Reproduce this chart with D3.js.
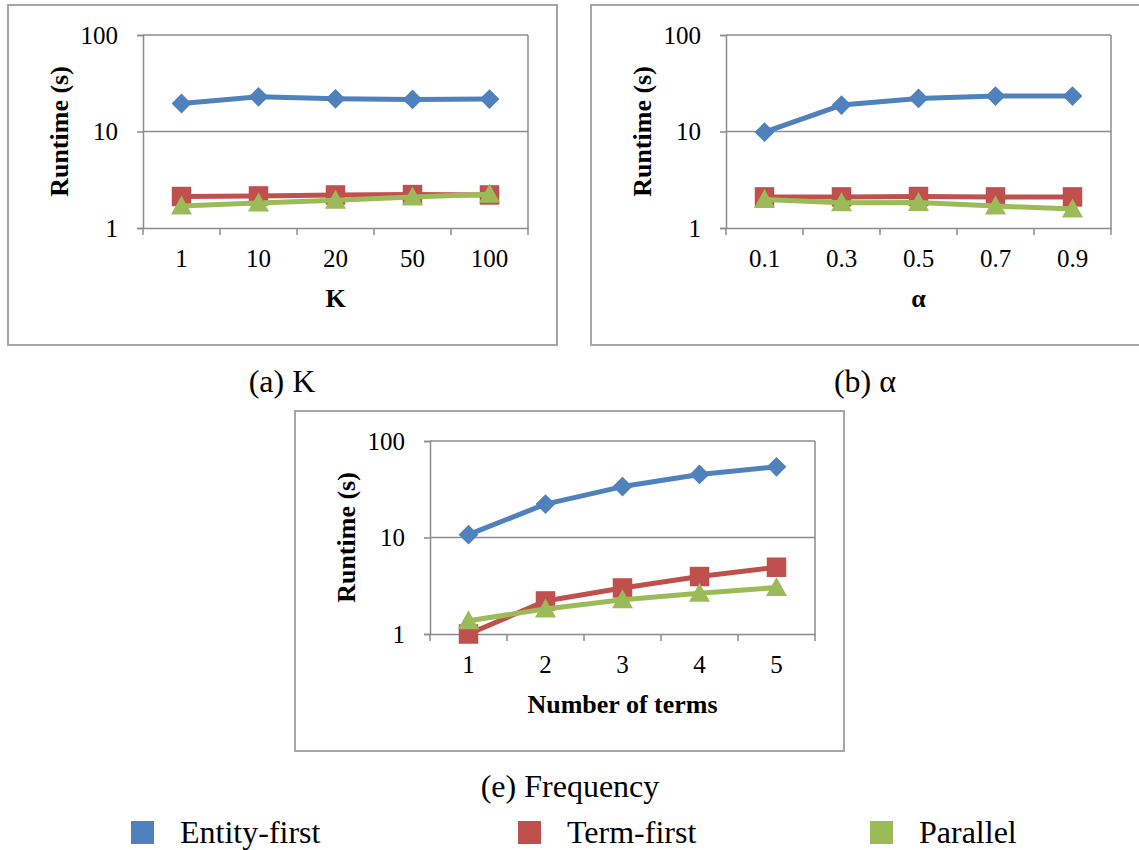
<!DOCTYPE html>
<html>
<head>
<meta charset="utf-8">
<script src="https://cdn.jsdelivr.net/npm/d3@7"></script>
<style>
  html, body { margin: 0; padding: 0; background: #fff; }
  svg { display: block; }
</style>
</head>
<body>
<svg id="chart" width="1139" height="850" font-family="Liberation Serif"></svg>
<script>
// ---- data ----
const seriesNames = ["Entity-first", "Term-first", "Parallel"];
const seriesColors = ["#4F81BD", "#C0504D", "#9BBB59"];

const kCategories = ["1", "10", "20", "50", "100"];
const kEntityFirst = [19.5, 22.9, 21.8, 21.5, 21.7];
const kTermFirst = [2.12, 2.15, 2.2, 2.22, 2.2];
const kParallel = [1.69, 1.82, 1.94, 2.1, 2.24];

const alphaCategories = ["0.1", "0.3", "0.5", "0.7", "0.9"];
const alphaEntityFirst = [9.85, 18.8, 22.0, 23.3, 23.3];
const alphaTermFirst = [2.1, 2.1, 2.12, 2.1, 2.1];
const alphaParallel = [1.97, 1.83, 1.84, 1.69, 1.57];

const termCategories = ["1", "2", "3", "4", "5"];
const termEntityFirst = [10.7, 22.2, 33.7, 45, 54];
const termTermFirst = [1.0, 2.2, 3.0, 3.94, 4.92];
const termParallel = [1.37, 1.82, 2.26, 2.64, 3.03];

const yTicks = [1, 10, 100];

// ---- layout ----
const FONT = "Liberation Serif";
const svg = d3.select("#chart");
const BOX_W = 549, BOX_H = 340;
const PLOT = { dx: 135, dy: 30, w: 385, h: 193 };
const gridColor = "#8c8c8c";
const boxColor = "#a6a6a6";

function markerPath(i) {
  if (i === 0) return d3.symbol().type(d3.symbolSquare).size(196)();
  if (i === 1) return d3.symbol().type(d3.symbolSquare).size(380)();
  return "M0,-10.5L10.5,8.5L-10.5,8.5Z";
}

function drawPanel(bx, by, cats, series, xTitle) {
  const g = svg.append("g");

  g.append("rect")
    .attr("x", bx).attr("y", by).attr("width", BOX_W).attr("height", BOX_H)
    .attr("fill", "#fff").attr("stroke", boxColor).attr("stroke-width", 2);

  const left = bx + PLOT.dx, top = by + PLOT.dy;
  const right = left + PLOT.w, bottom = top + PLOT.h;

  const x = d3.scaleBand().domain(cats).range([left, right]);
  const y = d3.scaleLog().domain([1, 100]).range([bottom, top]);

  // horizontal gridlines at 10 and 100
  g.append("g").selectAll("line").data(yTicks.slice(1)).join("line")
    .attr("x1", left).attr("x2", right)
    .attr("y1", d => y(d)).attr("y2", d => y(d))
    .attr("stroke", gridColor).attr("stroke-width", 1.5);

  // right edge of the plot area
  g.append("line")
    .attr("x1", right).attr("x2", right).attr("y1", top).attr("y2", bottom)
    .attr("stroke", gridColor).attr("stroke-width", 1.5);

  // y axis
  const yAxis = g.append("g")
    .attr("transform", `translate(${left},0)`)
    .call(d3.axisLeft(y).tickValues(yTicks).tickSize(6).tickPadding(19).tickFormat(d3.format("d")));
  yAxis.attr("font-family", FONT).attr("font-size", 25);
  yAxis.select(".domain").attr("stroke", gridColor).attr("stroke-width", 1.5);
  yAxis.selectAll(".tick line").attr("stroke", gridColor).attr("stroke-width", 1.5);
  yAxis.selectAll(".tick text").attr("fill", "#000");

  // x axis: labels at band centres, tick marks on band edges
  const xAxis = g.append("g")
    .attr("transform", `translate(0,${bottom})`)
    .call(d3.axisBottom(x).tickSize(0).tickPadding(21).tickSizeOuter(0));
  xAxis.attr("font-family", FONT).attr("font-size", 25);
  xAxis.select(".domain").attr("stroke", gridColor).attr("stroke-width", 1.5);
  xAxis.selectAll(".tick text").attr("fill", "#000");
  const edges = cats.map(c => x(c)).concat([right]);
  g.append("g").selectAll("line").data(edges).join("line")
    .attr("x1", d => d).attr("x2", d => d)
    .attr("y1", bottom).attr("y2", bottom + 7)
    .attr("stroke", gridColor).attr("stroke-width", 1.5);

  // axis titles
  g.append("text")
    .attr("transform", `translate(${bx + 60},${(top + bottom) / 2}) rotate(-90)`)
    .attr("text-anchor", "middle")
    .attr("font-family", FONT)
    .attr("font-size", 26).attr("font-weight", "bold")
    .text("Runtime (s)");
  g.append("text")
    .attr("x", (left + right) / 2).attr("y", bottom + 79)
    .attr("text-anchor", "middle")
    .attr("font-family", FONT)
    .attr("font-size", 26).attr("font-weight", "bold")
    .text(xTitle);

  // series lines and markers
  const cx = c => x(c) + x.bandwidth() / 2;
  series.forEach((vals, i) => {
    const pts = cats.map((c, j) => [cx(c), y(vals[j])]);
    g.append("path")
      .attr("d", d3.line()(pts))
      .attr("fill", "none").attr("stroke", seriesColors[i])
      .attr("stroke-width", 5).attr("stroke-linejoin", "round");
    g.append("g").selectAll("path").data(pts).join("path")
      .attr("d", markerPath(i))
      .attr("transform", d => `translate(${d[0]},${d[1]})` + (i === 0 ? " rotate(45)" : ""))
      .attr("fill", seriesColors[i]);
  });
}

function caption(cx, cy, text) {
  svg.append("text")
    .attr("x", cx).attr("y", cy)
    .attr("text-anchor", "middle").attr("font-size", 32)
    .attr("font-family", FONT)
    .text(text);
}

drawPanel(8, 5, kCategories, [kEntityFirst, kTermFirst, kParallel], "K");
drawPanel(591, 5, alphaCategories, [alphaEntityFirst, alphaTermFirst, alphaParallel], "α");
drawPanel(295, 411, termCategories, [termEntityFirst, termTermFirst, termParallel], "Number of terms");

caption(282, 392, "(a) K");
caption(865, 392, "(b) α");
caption(570, 797, "(e) Frequency");

// legend
const legendX = [131, 518, 870];
const legend = svg.append("g").selectAll("g").data(seriesNames).join("g")
  .attr("transform", (d, i) => `translate(${legendX[i]},821)`);
legend.append("rect")
  .attr("width", 23).attr("height", 23)
  .attr("fill", (d, i) => seriesColors[i]);
legend.append("text")
  .attr("x", 49).attr("y", 22)
  .attr("font-size", 32)
  .attr("font-family", FONT)
  .text(d => d);
</script>
</body>
</html>
